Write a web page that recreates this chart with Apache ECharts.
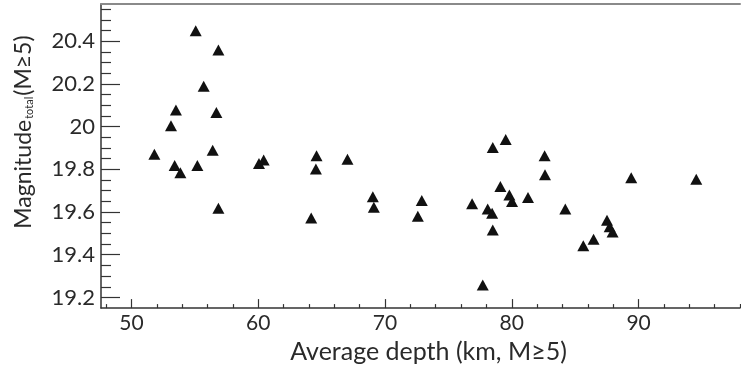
<!DOCTYPE html>
<html>
<head>
<meta charset="utf-8">
<script src="https://cdn.jsdelivr.net/npm/echarts@6/dist/echarts.min.js"></script>
<style>
html,body{margin:0;padding:0;background:#fff;}
#chart{width:741px;height:369px;}
</style>
</head>
<body>
<div id="chart"></div>
<script>
// Data
const depth = [55.07, 56.86, 55.70, 53.51, 56.70, 53.12, 51.81, 56.41, 53.41, 53.86, 55.20, 60.06, 60.43, 56.86,
  64.60, 64.55, 67.04, 64.18, 69.04, 69.12, 72.90, 72.59,
  76.87, 78.10, 78.45, 78.50, 78.50, 79.10, 77.71,
  79.52, 82.59, 82.62, 79.81, 80.02, 81.28, 84.22, 87.51, 87.72, 87.95, 86.45, 85.64, 89.42, 94.55];
const magnitude = [20.45, 20.36, 20.19, 20.078, 20.066, 20.005, 19.871, 19.89, 19.818, 19.784, 19.818, 19.828, 19.844, 19.618,
  19.864, 19.802, 19.848, 19.572, 19.672, 19.623, 19.654, 19.58,
  19.639, 19.614, 19.595, 19.516, 19.902, 19.72, 19.258,
  19.94, 19.864, 19.775, 19.68, 19.649, 19.668, 19.614, 19.562, 19.531, 19.507, 19.473, 19.442, 19.761, 19.754];

const xMajorTicks = [50, 60, 70, 80, 90];
const xMinorTicks = [48, 52, 54, 56, 58, 62, 64, 66, 68, 72, 74, 76, 78, 82, 84, 86, 88, 92, 94, 96, 98];
const yMajorTicks = [19.2, 19.4, 19.6, 19.8, 20, 20.2, 20.4];
const yMinorTicks = [19.25, 19.3, 19.35, 19.45, 19.5, 19.55, 19.65, 19.7, 19.75, 19.85, 19.9, 19.95,
  20.05, 20.1, 20.15, 20.25, 20.3, 20.35, 20.45, 20.5, 20.55];

const xRange = [47.6, 98];
const yRange = [19.15, 20.575];

const FONT = 'Lato';
const TXT = '#2a2a2a';
const AX = '#333';

const chart = echarts.init(document.getElementById('chart'), null, {renderer: 'canvas'});
const points = depth.map((d, i) => [d, magnitude[i]]);

chart.setOption({
  animation: false,
  backgroundColor: '#fff',
  grid: {left: 101, right: 1, top: 4, bottom: 55, containLabel: false},
  xAxis: [
    {
      type: 'value', position: 'bottom', min: xRange[0], max: xRange[1],
      name: 'Average depth (km, M≥5)', nameLocation: 'middle', nameGap: 26,
      nameTextStyle: {fontFamily: FONT, fontSize: 25, color: TXT, padding: [0, 0, 0, 16]},
      axisLine: {show: true, lineStyle: {color: AX, width: 1.5}},
      axisTick: {show: true, inside: true, length: 9, customValues: xMajorTicks, lineStyle: {color: AX, width: 1.2}},
      axisLabel: {show: true, customValues: xMajorTicks, margin: 5, fontFamily: FONT, fontSize: 21, color: TXT},
      splitLine: {show: false}
    },
    {
      type: 'value', position: 'bottom', min: xRange[0], max: xRange[1],
      axisLine: {show: false},
      axisTick: {show: true, inside: true, length: 4, customValues: xMinorTicks, lineStyle: {color: AX, width: 1.2}},
      axisLabel: {show: false},
      splitLine: {show: false}
    },
    {
      type: 'value', position: 'top', min: xRange[0], max: xRange[1],
      axisLine: {show: true, lineStyle: {color: '#8a8a8a', width: 2}},
      axisTick: {show: false}, axisLabel: {show: false}, splitLine: {show: false}
    }
  ],
  yAxis: [
    {
      type: 'value', position: 'left', min: yRange[0], max: yRange[1],
      name: '{a|Magnitude}{b|total}{a|(M≥5)}', nameLocation: 'middle', nameGap: 66, nameRotate: 90,
      nameTextStyle: {
        padding: [0, 0, 0, 48],
        rich: {
          a: {fontFamily: FONT, fontSize: 23, color: TXT, verticalAlign: 'bottom'},
          b: {fontFamily: FONT, fontSize: 11, color: TXT, verticalAlign: 'bottom', padding: [0, 1, 0, 1]}
        }
      },
      axisLine: {show: true, lineStyle: {color: AX, width: 1.5}},
      axisTick: {show: true, inside: true, length: 19, customValues: yMajorTicks, lineStyle: {color: AX, width: 1.2}},
      axisLabel: {show: true, customValues: yMajorTicks, margin: 6, fontFamily: FONT, fontSize: 22, color: TXT,
        formatter: v => String(+(+v).toFixed(1))},
      splitLine: {show: false}
    },
    {
      type: 'value', position: 'left', min: yRange[0], max: yRange[1],
      axisLine: {show: false},
      axisTick: {show: true, inside: true, length: 10, customValues: yMinorTicks, lineStyle: {color: AX, width: 1.2}},
      axisLabel: {show: false},
      splitLine: {show: false}
    }
  ],
  series: [{
    type: 'scatter',
    xAxisIndex: 0, yAxisIndex: 0,
    symbol: 'triangle',
    symbolSize: [12, 11],
    itemStyle: {color: '#111', opacity: 1},
    data: points
  }]
});
</script>
</body>
</html>
